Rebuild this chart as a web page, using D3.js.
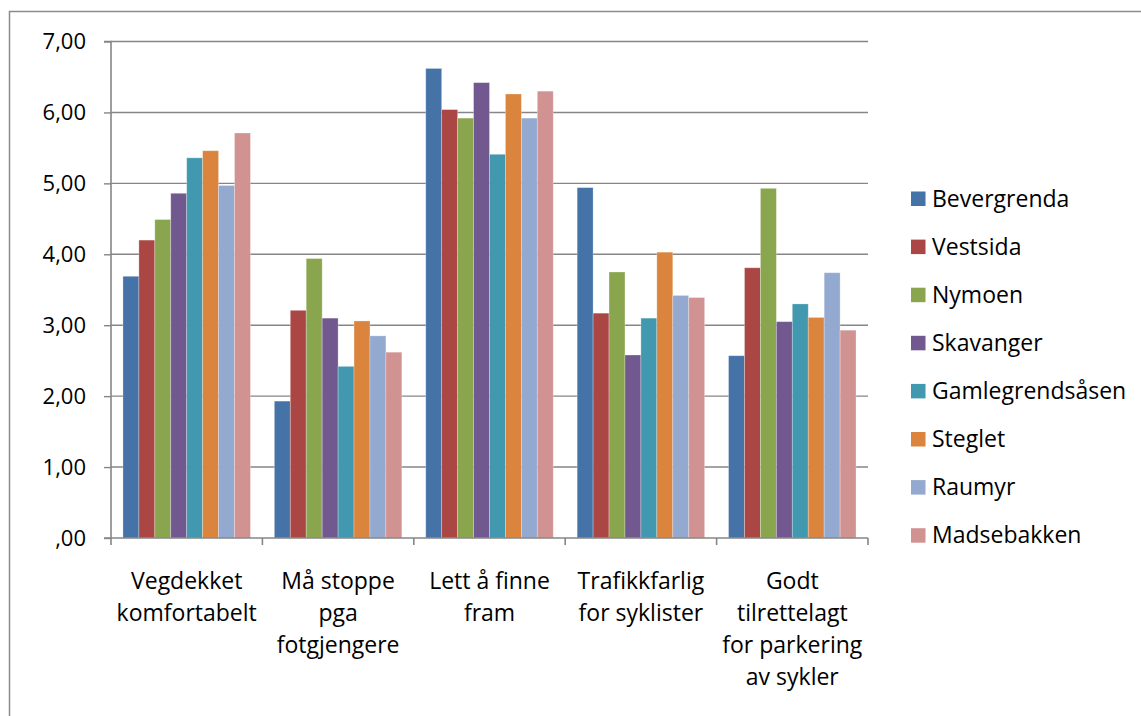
<!DOCTYPE html>
<html>
<head>
<meta charset="utf-8">
<script src="https://cdn.jsdelivr.net/npm/d3@7"></script>
<style>
  html, body { margin: 0; padding: 0; background: #fff; }
  svg { display: block; }
  text { font-family: "Open Sans", sans-serif; fill: #000; }
</style>
</head>
<body>
<svg id="chart" width="1141" height="716"></svg>
<script>
const categories = [
  ["Vegdekket", "komfortabelt"],
  ["Må stoppe", "pga", "fotgjengere"],
  ["Lett å finne", "fram"],
  ["Trafikkfarlig", "for syklister"],
  ["Godt", "tilrettelagt", "for parkering", "av sykler"]
];
const seriesNames = ["Bevergrenda", "Vestsida", "Nymoen", "Skavanger", "Gamlegrendsåsen", "Steglet", "Raumyr", "Madsebakken"];
const seriesColors = ["#4572A7", "#AA4643", "#89A54E", "#71588F", "#4198AF", "#DB843D", "#93A9CF", "#D19392"];
const bevergrenda     = [3.69, 1.93, 6.62, 4.94, 2.57];
const vestsida        = [4.20, 3.21, 6.04, 3.17, 3.81];
const nymoen          = [4.49, 3.94, 5.92, 3.75, 4.93];
const skavanger       = [4.86, 3.10, 6.42, 2.58, 3.05];
const gamlegrendsaasen= [5.36, 2.42, 5.41, 3.10, 3.30];
const steglet         = [5.46, 3.06, 6.26, 4.03, 3.11];
const raumyr          = [4.97, 2.85, 5.92, 3.42, 3.74];
const madsebakken     = [5.71, 2.62, 6.30, 3.39, 2.93];
const yTicks = [0, 1, 2, 3, 4, 5, 6, 7];
const yTickLabels = [",00", "1,00", "2,00", "3,00", "4,00", "5,00", "6,00", "7,00"];

const seriesValues = [bevergrenda, vestsida, nymoen, skavanger, gamlegrendsaasen, steglet, raumyr, madsebakken];

const svg = d3.select("#chart");
const plotLeft = 111, plotRight = 868, plotTop = 41.5, plotBottom = 538;
const gridColor = "#868686";

// outer chart border (top and left visible)
svg.append("path")
  .attr("d", `M9.5,716 L9.5,11.5 L1141,11.5`)
  .attr("fill", "none").attr("stroke", "#8c8c8c").attr("stroke-width", 1.5);

const catIdx = d3.range(categories.length);
const x0 = d3.scaleBand().domain(catIdx).range([plotLeft, plotRight]).paddingInner(0).paddingOuter(0);
const x1 = d3.scaleBand().domain(seriesNames).range([0, x0.bandwidth()]).paddingInner(0).paddingOuter(0.75);
const y = d3.scaleLinear().domain([0, 7]).range([plotBottom, plotTop]);

// gridlines
svg.append("g").selectAll("line").data(yTicks.filter(d => d > 0)).join("line")
  .attr("x1", plotLeft).attr("x2", plotRight)
  .attr("y1", d => y(d)).attr("y2", d => y(d))
  .attr("stroke", gridColor).attr("stroke-width", 1.4);

// bars
const groups = svg.append("g").selectAll("g").data(catIdx).join("g")
  .attr("transform", i => `translate(${x0(i)},0)`);
groups.selectAll("rect")
  .data(i => seriesNames.map((s, k) => ({ s, k, v: seriesValues[k][i] })))
  .join("rect")
  .attr("x", d => x1(d.s))
  .attr("width", x1.bandwidth())
  .attr("y", d => y(d.v))
  .attr("height", d => y(0) - y(d.v))
  .attr("fill", d => seriesColors[d.k])
  .attr("stroke", "rgba(255,255,255,0.35)")
  .attr("stroke-width", 0.8);

// y axis
const yAxis = d3.axisLeft(y).tickValues(yTicks).tickFormat((d, i) => yTickLabels[i]).tickSize(7).tickPadding(18);
const gy = svg.append("g").attr("transform", `translate(${plotLeft},0)`).call(yAxis);
gy.select(".domain").attr("stroke", gridColor).attr("stroke-width", 1.6).attr("d", `M-7,${plotTop}H0V${plotBottom}H-7`);
gy.selectAll(".tick line").attr("stroke", gridColor).attr("stroke-width", 1.4);
gy.selectAll(".tick text").attr("font-family", "Open Sans, sans-serif").attr("font-size", 22).attr("fill", "#000");

// x axis
const xTickPos = catIdx.map(i => x0(i)).concat([plotRight]);
const gx = svg.append("g");
gx.append("line").attr("x1", plotLeft).attr("x2", plotRight).attr("y1", plotBottom).attr("y2", plotBottom)
  .attr("stroke", gridColor).attr("stroke-width", 1.6);
gx.selectAll("line.tk").data(xTickPos).join("line").attr("class", "tk")
  .attr("x1", d => d).attr("x2", d => d).attr("y1", plotBottom).attr("y2", plotBottom + 7)
  .attr("stroke", gridColor).attr("stroke-width", 1.6);

// category labels
const lab = svg.append("g").selectAll("text").data(catIdx).join("text")
  .attr("text-anchor", "middle").attr("font-size", 23)
  .attr("x", i => x0(i) + x0.bandwidth() / 2);
lab.selectAll("tspan").data(i => categories[i]).join("tspan")
  .attr("x", function () { return d3.select(this.parentNode).attr("x"); })
  .attr("y", (d, j) => 589 + j * 32)
  .text(d => d);

// legend
const leg = svg.append("g").selectAll("g").data(seriesNames).join("g")
  .attr("transform", (d, k) => `translate(911, ${198.5 + k * 48.1})`);
leg.append("rect").attr("x", 0).attr("y", -7).attr("width", 14.5).attr("height", 14.5)
  .attr("fill", (d, k) => seriesColors[k]);
leg.append("text").attr("x", 21).attr("y", 8).attr("font-size", 23).text(d => d);
</script>
</body>
</html>
